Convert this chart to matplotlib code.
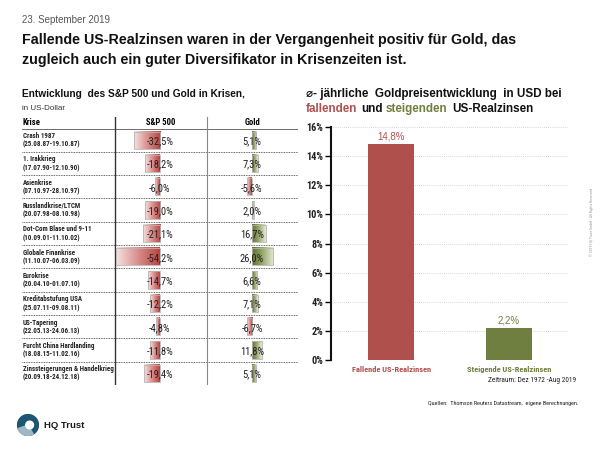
import numpy as np
import matplotlib
matplotlib.use("Agg")
import matplotlib.pyplot as plt
from matplotlib.colors import LinearSegmentedColormap
from matplotlib.patches import Rectangle, Circle, Wedge
from matplotlib import font_manager

# ---------------- data ----------------
crises = ["Crash 1987", "1. Irakkrieg", "Asienkrise", "Russlandkrise/LTCM",
          "Dot-Com Blase und 9-11", "Globale Finankrise", "Eurokrise",
          "Kreditabstufung USA", "US-Tapering", "Furcht China Hardlanding",
          "Zinssteigerungen & Handelkrieg"]
periods = ["(25.08.87-19.10.87)", "(17.07.90-12.10.90)", "(07.10.97-28.10.97)",
           "(20.07.98-08.10.98)", "(10.09.01-11.10.02)", "(11.10.07-06.03.09)",
           "(20.04.10-01.07.10)", "(25.07.11-09.08.11)", "(22.05.13-24.06.13)",
           "(18.08.15-11.02.16)", "(20.09.18-24.12.18)"]
sp500 = [-32.5, -18.2, -6.0, -19.0, -21.1, -54.2, -14.7, -12.2, -4.8, -11.8, -19.4]
gold = [5.1, 7.3, -5.6, 2.0, 16.7, 26.0, 6.6, 7.1, -6.7, 11.8, 5.1]

rate_cats = ["Fallende US-Realzinsen", "Steigende US-Realzinsen"]
rate_vals = [14.8, 2.2]
yticks = [0, 2, 4, 6, 8, 10, 12, 14, 16]

# ---------------- style ----------------
names = {f.name for f in font_manager.fontManager.ttflist}
NARROW = None
for cand in ["Liberation Sans Narrow", "Arial Narrow", "Roboto Condensed",
             "Noto Sans Condensed", "Open Sans Condensed", "DejaVu Sans Condensed",
             "Noto Sans SemiCondensed", "Open Sans SemiCondensed"]:
    if cand in names:
        NARROW = dict(family=[cand, "DejaVu Sans"])
        break
if NARROW is None:
    NARROW = dict(family=["Liberation Sans", "DejaVu Sans"])
SANS = ["Liberation Sans", "DejaVu Sans"]
RED = "#B0504D"
GREEN = "#6F7F3F"

W, H = 600, 450
fig = plt.figure(figsize=(6, 4.5), dpi=100)


def fx(x):
    return x / W


def fy(y):
    return 1 - y / H


def fit(texts, max_px, base):
    """shrink a group of texts uniformly so the widest fits max_px"""
    r = fig.canvas.get_renderer()
    wmax = max(t.get_window_extent(r).width for t in texts)
    s = min(1.0, max_px / wmax)
    for t in texts:
        t.set_fontsize(base * s)


# header texts
fig.text(fx(22), fy(20), "23. September 2019", fontsize=7, color="#555555",
         family=SANS, va="center")
fig.text(fx(22), fy(40), "Fallende US-Realzinsen waren in der Vergangenheit positiv für Gold, das",
         fontsize=10.3, fontweight="bold", family=SANS, va="center", color="#111111")
fig.text(fx(22), fy(60), "zugleich auch ein guter Diversifikator in Krisenzeiten ist.",
         fontsize=10.3, fontweight="bold", family=SANS, va="center", color="#111111")

fig.text(fx(22), fy(94), "Entwicklung  des S&P 500 und Gold in Krisen,", fontsize=7.3,
         fontweight="bold", family=SANS, va="center", color="#111111")
fig.text(fx(22), fy(109), "in US-Dollar", fontsize=5.8, family=SANS, va="center", color="#333333")

fig.text(fx(306), fy(94), "\u2300- jährliche  Goldpreisentwicklung  in USD bei", fontsize=8.4,
         fontweight="bold", family=SANS, va="center", color="#111111")
sub2 = [("fallenden", RED, 306), ("und", "#111111", 361), ("steigenden", GREEN, 386),
        ("US-Realzinsen", "#111111", 452)]
for word, col, xx in sub2:
    fig.text(fx(xx), fy(109), word, fontsize=8.4, fontweight="bold", family=SANS,
             va="center", color=col)

# ---------------- table frame ----------------
n = len(crises)
tab = fig.add_axes([fx(22), fy(385), fx(298 - 22), (385 - 117) / H])
tab.set_xlim(22, 298)
tab.set_ylim(385, 117)
tab.axis("off")
row_top = 128.5
row_h = (385 - row_top) / n
tab.plot([22, 298], [row_top, row_top], color="#555555", lw=0.6)
for i in range(n - 1):
    yy = row_top + (i + 1) * row_h
    tab.plot([22, 298], [yy, yy], color="#333333", lw=0.6, ls=(0, (1, 1)))
tab.plot([115, 115], [117, 385], color="#333333", lw=1.0)
tab.plot([207, 207], [117, 385], color="#888888", lw=0.8)
hdr_fs = 6.2
tab.text(23, 122.5, "Krise", fontsize=hdr_fs, fontweight="bold", va="center", **NARROW)
tab.text(160.5, 122.5, "S&P 500", fontsize=hdr_fs, fontweight="bold",
         va="center", ha="center", **NARROW)
tab.text(252.5, 122.5, "Gold", fontsize=hdr_fs, fontweight="bold",
         va="center", ha="center", **NARROW)
row_texts = []
for i in range(n):
    yc = row_top + (i + 0.5) * row_h
    row_texts.append(tab.text(23, yc - 4.2, crises[i], fontsize=5.6, fontweight="bold",
                              va="center", color="#222222", **NARROW))
    row_texts.append(tab.text(23, yc + 4.5, periods[i], fontsize=5.6, fontweight="bold",
                              va="center", color="#222222", **NARROW))
fit(row_texts, 90, 5.6)

# ---------------- table bars ----------------
red_cmap = LinearSegmentedColormap.from_list("r", ["#B84441", "#D98E8C", "#F6E2E2"])
green_cmap = LinearSegmentedColormap.from_list("g", ["#5E6E2A", "#9BAA70", "#E6EBD6"])


def bar_axes(x0, x1):
    ax = fig.add_axes([fx(x0), fy(385), fx(x1 - x0), (385 - row_top) / H])
    ax.axis("off")
    ax.patch.set_alpha(0)
    return ax


def draw_bars(ax, vals, pos_cmap, neg_cmap, xlim):
    hb = 0.74
    for i, v in enumerate(vals):
        x0, x1 = min(0, v), max(0, v)
        grad = np.linspace(0, 1, 128)
        if v < 0:
            grad = grad[::-1]
        cm = pos_cmap if v >= 0 else neg_cmap
        ax.imshow(grad.reshape(1, -1), cmap=cm, aspect="auto",
                  extent=(x0, x1, i + 0.5 + hb / 2, i + 0.5 - hb / 2),
                  interpolation="bilinear", zorder=1)
        ax.add_patch(Rectangle((x0, i + 0.5 - hb / 2), x1 - x0, hb, fill=False,
                               ec="#B5B5B5", lw=0.6, zorder=2))
        ax.text(0, i + 0.55, f"{v:.1f}%".replace(".", ","), ha="center", va="center",
                fontsize=7.6, color="#222222", zorder=3, **NARROW)
    ax.set_xlim(*xlim)
    ax.set_ylim(n, 0)


ax_sp = bar_axes(115, 207)
draw_bars(ax_sp, sp500, red_cmap, red_cmap, (-55.6, 58.0))
ax_g = bar_axes(207, 298)
draw_bars(ax_g, gold, green_cmap, red_cmap, (-55.6, 56.8))

# ---------------- right bar chart ----------------
ax = fig.add_axes([fx(331), fy(360), fx(568 - 331), (360 - 127) / H])
xpos = np.arange(len(rate_cats))
colors = [RED, GREEN]
ax.bar(xpos, rate_vals, width=0.39, color=colors, zorder=2)
ax.set_xlim(-0.51, 1.5)
ax.set_ylim(0, 16)
ax.set_yticks(yticks)
ax.set_yticklabels([f"{t}%" for t in yticks])
for lbl in ax.get_yticklabels():
    lbl.set_fontsize(7.4)
    lbl.set_fontweight("bold")
    lbl.set_family(NARROW["family"])
    lbl.set_color("#222222")
ax.yaxis.grid(True, ls=(0, (1, 1.5)), color="#C8C8C8", lw=0.6, zorder=0)
ax.set_xticks(xpos)
ax.set_xticklabels(rate_cats)
for lbl, c in zip(ax.get_xticklabels(), colors):
    lbl.set_color(c)
    lbl.set_fontsize(7.4)
    lbl.set_fontweight("bold")
    lbl.set_family(NARROW["family"])
ax.tick_params(axis="x", length=0, pad=4)
ax.tick_params(axis="y", length=4, width=1.0, pad=1.5, direction="out")
for s in ["top", "right", "bottom"]:
    ax.spines[s].set_visible(False)
ax.spines["left"].set_linewidth(1.5)
ax.spines["left"].set_color("#111111")
for x, v, c in zip(xpos, rate_vals, colors):
    ax.text(x, v + 0.2, f"{v:.1f}%".replace(".", ","), ha="center", va="bottom",
            fontsize=7, family=SANS, color=c)
fit(ax.get_xticklabels(), 84, 7.4)

fig.text(fx(576), fy(381), "Zeitraum: Dez 1972 -Aug 2019", fontsize=5.3,
         ha="right", va="center", color="#222222", **NARROW)
fig.text(fx(578), fy(403), "Quellen:  Thomson Reuters Datastream,  eigene Berechnungen.",
         fontsize=4.45, ha="right", va="center", color="#222222", **NARROW)
fig.text(fx(592), fy(222), "© 2019 HQ Trust GmbH - All Rights Reserved", fontsize=2.8,
         rotation=90, ha="center", va="center", color="#999999", **NARROW)

# ---------------- logo ----------------
lg = fig.add_axes([fx(17), fy(436), fx(22), 22 / H])
lg.set_xlim(-1, 1)
lg.set_ylim(-1, 1)
lg.set_aspect("equal")
lg.axis("off")
lg.add_patch(Circle((0, 0), 0.95, color="#1E5573"))
lg.add_patch(Wedge((0, 0), 0.95, 200, 300, color="#9FB6C4"))
lg.add_patch(Circle((0.15, 0.0), 0.35, color="white"))
fig.text(fx(44), fy(425), "HQ Trust", fontsize=6.8, fontweight="bold", family=SANS,
         va="center", color="#1a1a1a")

fig.savefig("out.png", dpi=100)
